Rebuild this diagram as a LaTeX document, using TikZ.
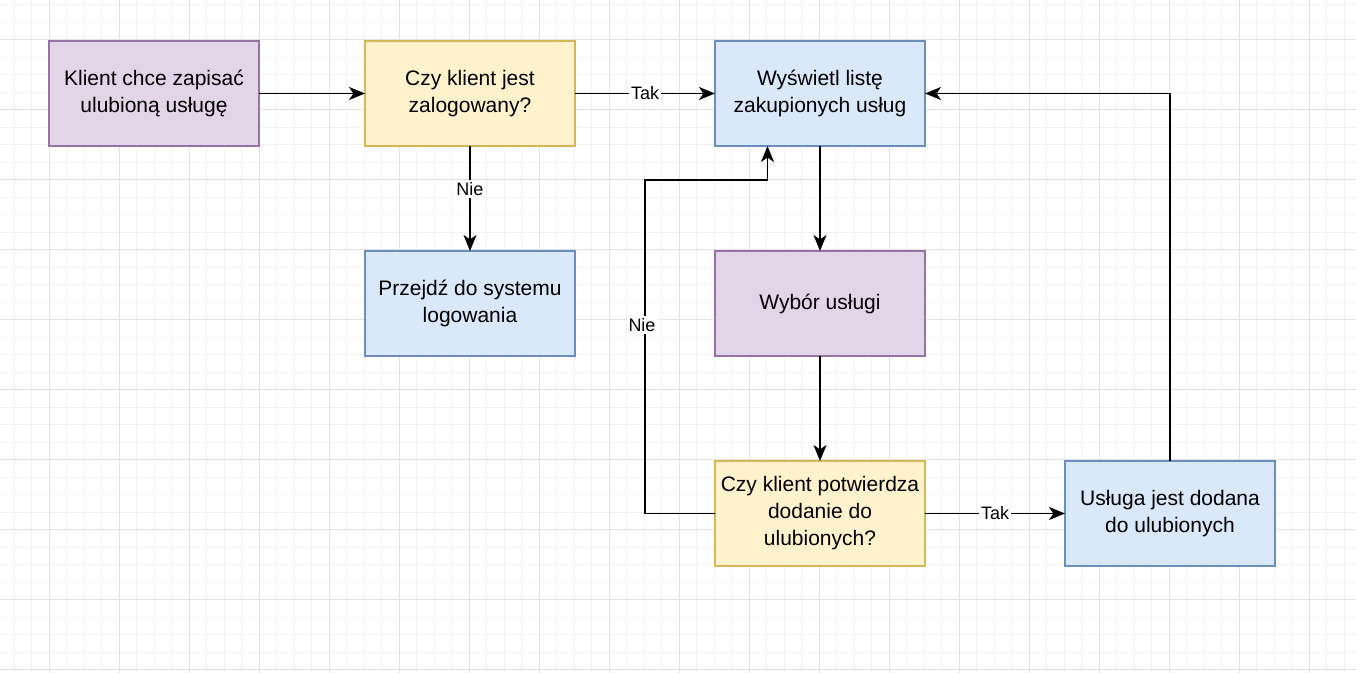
\documentclass[tikz,border=0pt]{standalone}
\usepackage{fontspec}
\setmainfont{Liberation Sans}
\usetikzlibrary{arrows.meta,calc}
\definecolor{pfill}{HTML}{E1D5E7}\definecolor{pline}{HTML}{9673A6}
\definecolor{yfill}{HTML}{FFF2CC}\definecolor{yline}{HTML}{D6B656}
\definecolor{bfill}{HTML}{DAE8FC}\definecolor{bline}{HTML}{6C8EBF}
\definecolor{gminor}{HTML}{F2F2F2}\definecolor{gmajor}{HTML}{E2E2E2}
\begin{document}
\begin{tikzpicture}[x=0.5pt,y=-0.5pt,
  box/.style={draw, line width=0.85pt, minimum width=105pt, minimum height=52.5pt,
    inner sep=2pt, outer sep=0pt, align=center, font=\fontsize{10.5}{13.5}\selectfont},
  purplebox/.style={box, fill=pfill, draw=pline},
  yellowbox/.style={box, fill=yfill, draw=yline},
  bluebox/.style={box, fill=bfill, draw=bline},
  arr/.style={line width=0.9pt, -{Stealth[length=8pt,width=6.5pt,inset=2.2pt]}},
  lbl/.style={fill=white, inner sep=1pt, font=\fontsize{9}{10}\selectfont}]
\useasboundingbox (0,0) rectangle (1356,673);
\fill[white] (0,0) rectangle (1356,673);
% grid
\foreach \k in {-2,...,75} {
  \pgfmathsetmacro{\gx}{49+17.5*\k}
  \draw[gminor, line width=0.5pt] (\gx,0) -- (\gx,673);
}
\foreach \k in {-2,...,36} {
  \pgfmathsetmacro{\gy}{40+17.5*\k}
  \draw[gminor, line width=0.5pt] (0,\gy) -- (1356,\gy);
}
\foreach \k in {-1,...,19} {
  \pgfmathsetmacro{\gx}{49+70*\k}
  \draw[gmajor, line width=0.5pt] (\gx,0) -- (\gx,673);
}
\foreach \k in {-1,...,9} {
  \pgfmathsetmacro{\gy}{40+70*\k}
  \draw[gmajor, line width=0.5pt] (0,\gy) -- (1356,\gy);
}
% nodes
\node[purplebox] (b1) at (154,93.5) {Klient chce zapisać\\ulubioną usługę};
\node[yellowbox] (b2) at (470,93.5) {Czy klient jest\\zalogowany?};
\node[bluebox] (b3) at (820,93.5) {Wyświetl listę\\zakupionych usług};
\node[bluebox] (b4) at (470,303.5) {Przejdź do systemu\\logowania};
\node[purplebox] (b5) at (820,303.5) {Wybór usługi};
\node[yellowbox] (b6) at (820,513.5) {Czy klient potwierdza\\dodanie do\\ulubionych?};
\node[bluebox] (b7) at (1170,513.5) {Usługa jest dodana\\do ulubionych};
\coordinate (nieA) at (645,180);
\coordinate (b3q) at ($(b3.south west)!0.25!(b3.south east)$);
% connectors
\draw[arr] (b1) -- (b2);
\draw[arr] (b2) -- node[lbl]{Tak} (b3);
\draw[arr] (b2) -- node[lbl,pos=0.41]{Nie} (b4);
\draw[arr] (b3) -- (b5);
\draw[arr] (b5) -- (b6);
\draw[arr] (b6) -- node[lbl]{Tak} (b7);
\draw[arr] (b6.west) -| (nieA) -| (b3q);
\node[lbl] (nieL) at (642,325) {Nie};
\draw[arr] (b7.north) |- (b3.east);
\end{tikzpicture}
\end{document}
